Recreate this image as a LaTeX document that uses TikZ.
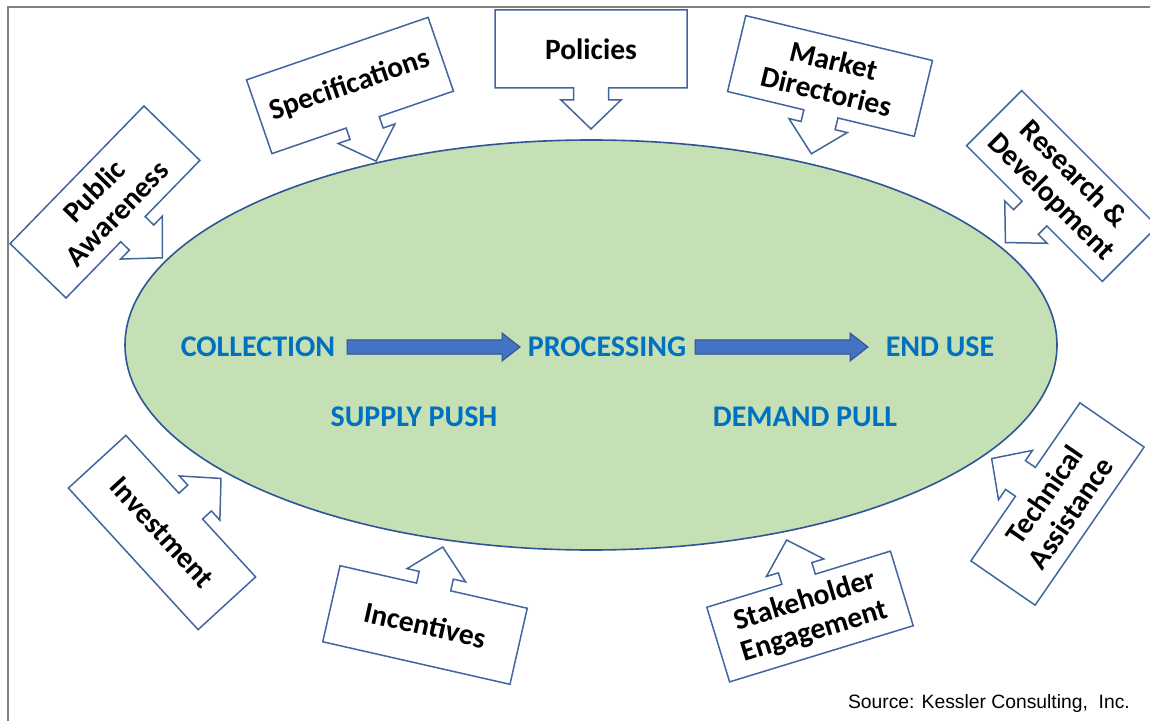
\documentclass[tikz,border=0pt]{standalone}
\usepackage{fontspec}
\setmainfont{Carlito}
\newfontfamily\arialfont{Liberation Sans}
\usetikzlibrary{calc,shapes.geometric}
\definecolor{ellfill}{HTML}{C5E0B4}
\definecolor{edgeblue}{HTML}{2F5597}
\definecolor{boxblue}{HTML}{41669E}
\definecolor{txtblue}{HTML}{0070C0}
\definecolor{arrfill}{HTML}{4472C4}
\definecolor{arrdraw}{HTML}{2F528F}
\definecolor{framegray}{HTML}{808080}
\tikzset{
  calloutbox/.style={draw=boxblue, line width=1.5pt, fill=white, line join=miter},
  callouttext/.style={font=\bfseries\fontsize{29.5}{32}\selectfont, align=center, text=black, inner sep=0pt},
  flowtext/.style={font=\bfseries\fontsize{30}{33}\selectfont, text=txtblue, inner sep=0pt},
  fatarrow/.style={draw=arrdraw, fill=arrfill, line width=1pt},
  hubstyle/.style={ellipse, draw=edgeblue, fill=ellfill, line width=1.6pt, minimum width=932pt, minimum height=410pt, inner sep=0pt},
}
\newcommand\mycallout[6]{%
  \begin{scope}[shift={(#2,#3)}, rotate=#4, yscale=#5]
    \draw[calloutbox] (-96,39) -- (96,39) -- (96,-39) -- (17.5,-39) -- (17.5,-51) -- (30,-51) -- (0,-80) -- (-30,-51) -- (-17.5,-51) -- (-17.5,-39) -- (-96,-39) -- cycle;
  \end{scope}
  \node[callouttext, rotate=#4] (#1) at (#2,#3) {#6};
}
\newcommand\myfatarrow[2]{%
  \draw[fatarrow] let \p1=(#1), \p2=(#2) in
    (\x1,\y1+7pt) -- (\x2-18pt,\y2+7pt) -- (\x2-18pt,\y2+14pt) -- (\x2,\y2) -- (\x2-18pt,\y2-14pt) -- (\x2-18pt,\y2-7pt) -- (\x1,\y1-7pt) -- cycle;
}
\begin{document}
\begin{tikzpicture}[x=1pt,y=1pt]
\useasboundingbox (0,0) rectangle (1150,721);
\clip (0,0) rectangle (1150,721);
\fill[white] (0,0) rectangle (1150,721);
\draw[framegray, line width=2pt] (8,0) -- (8,713.5) -- (1150,713.5);

\node[hubstyle] (hub) at (591,376) {};

\mycallout{public}{105}{519}{45.8}{1}{Public\\Awareness}
\mycallout{specs}{350}{635.5}{19}{1}{Specifications}
\mycallout{policies}{591}{672}{0}{1}{Policies}
\mycallout{market}{830}{645}{-13.5}{1}{Market\\Directories}
\mycallout{research}{1062}{535}{-45}{1}{Research \&\\Development}
\mycallout{invest}{162}{188.5}{-47.5}{-1}{Investment}
\mycallout{incent}{425}{96}{-12.8}{-1}{Incentives}
\mycallout{stake}{810}{104.5}{17}{-1}{Stakeholder\\Engagement}
\mycallout{tech}{1057.5}{217}{55.4}{-1}{Technical\\Assistance}

\node[flowtext] (coll) at (258,374) {COLLECTION};
\node[flowtext] (proc) at (607,374) {PROCESSING};
\node[flowtext] (enduse) at (940,374) {END USE};
\node[flowtext] (supply) at (414,304) {SUPPLY PUSH};
\node[flowtext] (demand) at (805,304) {DEMAND PULL};

\coordinate (a1s) at (347,374);
\coordinate (a1e) at (520,374);
\coordinate (a2s) at (695,374);
\coordinate (a2e) at (868,374);
\myfatarrow{a1s}{a1e}
\myfatarrow{a2s}{a2e}

\node[font=\arialfont\fontsize{19.3}{21}\selectfont, anchor=base east, inner sep=0pt] (source) at (1130,13) {Source: Kessler Consulting,\ \ Inc.};
\end{tikzpicture}
\end{document}
